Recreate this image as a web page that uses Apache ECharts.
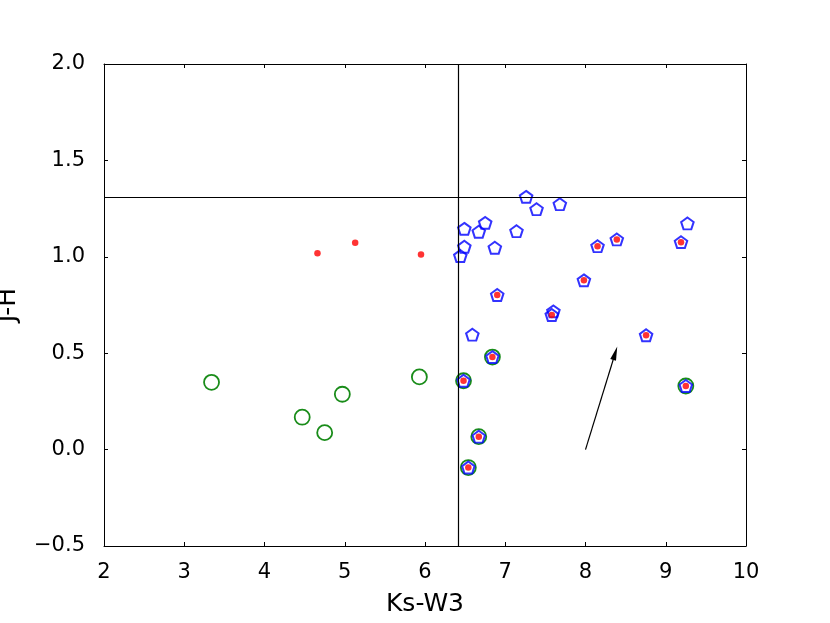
<!DOCTYPE html>
<html>
<head>
<meta charset="utf-8">
<script src="https://cdn.jsdelivr.net/npm/echarts@6/dist/echarts.min.js"></script>
<style>html,body{margin:0;padding:0;background:#fff;}#c{width:830px;height:623px;}</style>
</head>
<body>
<div id="c"></div>
<script>
// All sources (blue pentagons) [Ks-W3, J-H]
const pentagonPoints = [
  [7.26, 1.311], [7.39, 1.247], [7.68, 1.273], [6.49, 1.145], [6.75, 1.176],
  [6.67, 1.130], [7.14, 1.133], [6.49, 1.052], [6.44, 1.004], [6.87, 1.047],
  [8.15, 1.055], [8.39, 1.090], [7.98, 0.878], [6.90, 0.802], [7.58, 0.698],
  [7.60, 0.717], [6.59, 0.596], [9.27, 1.173], [9.19, 1.076], [8.755, 0.593],
  [9.25, 0.330], [6.84, 0.480], [6.48, 0.357], [6.67, 0.067], [6.54, -0.093]
];
// Red dots
const redPoints = [
  [4.66, 1.018], [5.13, 1.073], [5.95, 1.012],
  [8.15, 1.055], [8.39, 1.090], [7.98, 0.878], [6.90, 0.802], [7.58, 0.698],
  [9.19, 1.076], [8.755, 0.593], [9.25, 0.330], [6.84, 0.480], [6.48, 0.357],
  [6.67, 0.067], [6.54, -0.093]
];
// Green circles
const greenPoints = [
  [3.34, 0.349], [5.93, 0.377], [4.97, 0.287], [4.47, 0.168], [4.75, 0.088],
  [6.84, 0.480], [6.48, 0.357], [6.67, 0.067], [6.54, -0.093], [9.25, 0.330]
];
// Reference lines and reddening vector
const verticalLineX = 6.42;
const horizontalLineY = 1.31;
const arrowStart = [8.0, 0.0];
const arrowEnd = [8.37, 0.5];
const xTicks = [2, 3, 4, 5, 6, 7, 8, 9, 10];
const yTicks = [-0.5, 0.0, 0.5, 1.0, 1.5, 2.0];

const FONT = 'DejaVu Sans';
const pent = 'path://M0,-1L0.951,-0.309L0.588,0.809L-0.588,0.809L-0.951,-0.309Z';

function axisCommon() {
  return {
    axisLine: {show: true, onZero: false, lineStyle: {color: '#000', width: 1}},
    axisTick: {show: true, inside: true, length: 4, lineStyle: {color: '#000', width: 1}},
    splitLine: {show: false}
  };
}

const chart = echarts.init(document.getElementById('c'), null, {renderer: 'canvas'});
chart.setOption({
  animation: false,
  backgroundColor: '#fff',
  grid: {left: 104, right: 84, top: 64, bottom: 77, containLabel: false, outerBoundsMode: 'none'},
  xAxis: [
    Object.assign({
      type: 'value', min: xTicks[0], max: xTicks[xTicks.length - 1], interval: 1,
      position: 'bottom',
      name: 'Ks-W3', nameLocation: 'middle', nameGap: 46,
      nameTextStyle: {fontFamily: FONT, fontSize: 25, color: '#000'},
      axisLabel: {fontFamily: FONT, fontSize: 21, color: '#000', margin: 16}
    }, axisCommon()),
    Object.assign({
      type: 'value', min: xTicks[0], max: xTicks[xTicks.length - 1], interval: 1,
      position: 'top', axisLabel: {show: false}
    }, axisCommon())
  ],
  yAxis: [
    Object.assign({
      type: 'value', min: yTicks[0], max: yTicks[yTicks.length - 1], interval: 0.5,
      position: 'left',
      name: 'J-H', nameLocation: 'middle', nameGap: 83,
      nameTextStyle: {fontFamily: FONT, fontSize: 25, color: '#000'},
      axisLabel: {fontFamily: FONT, fontSize: 21, color: '#000', margin: 19,
        formatter: v => (v < 0 ? '\u2212' + Math.abs(v).toFixed(1) : v.toFixed(1))}
    }, axisCommon()),
    Object.assign({
      type: 'value', min: yTicks[0], max: yTicks[yTicks.length - 1], interval: 0.5,
      position: 'right', axisLabel: {show: false}
    }, axisCommon())
  ],
  series: [
    {
      type: 'scatter', name: 'lines', data: [], silent: true,
      markLine: {
        silent: true, symbol: 'none', animation: false,
        label: {show: false},
        lineStyle: {color: '#000', width: 1.2, type: 'solid'},
        data: [{xAxis: verticalLineX}, {yAxis: horizontalLineY}]
      }
    },
    {
      type: 'scatter', name: 'green', data: greenPoints, symbol: 'circle', symbolSize: 15,
      itemStyle: {color: 'rgba(0,0,0,0)', borderColor: '#008000', borderWidth: 1.8, opacity: 0.9}
    },
    {
      type: 'scatter', name: 'blue', data: pentagonPoints, symbol: pent, symbolSize: [12.5, 11.9],
      itemStyle: {color: 'rgba(255,255,255,0)', borderColor: '#0000ff', borderWidth: 2}
    },
    {
      type: 'scatter', name: 'red', data: redPoints, symbol: 'circle', symbolSize: 6.5,
      itemStyle: {color: '#ff0000', borderWidth: 0}
    },
    {
      type: 'lines', coordinateSystem: 'cartesian2d', silent: true,
      symbol: ['none', 'triangle'], symbolSize: [1, [6, 14]],
      lineStyle: {color: '#000', width: 1.2, opacity: 1},
      itemStyle: {color: '#000'},
      data: [{coords: [arrowStart, arrowEnd]}]
    }
  ]
});
</script>
</body>
</html>
